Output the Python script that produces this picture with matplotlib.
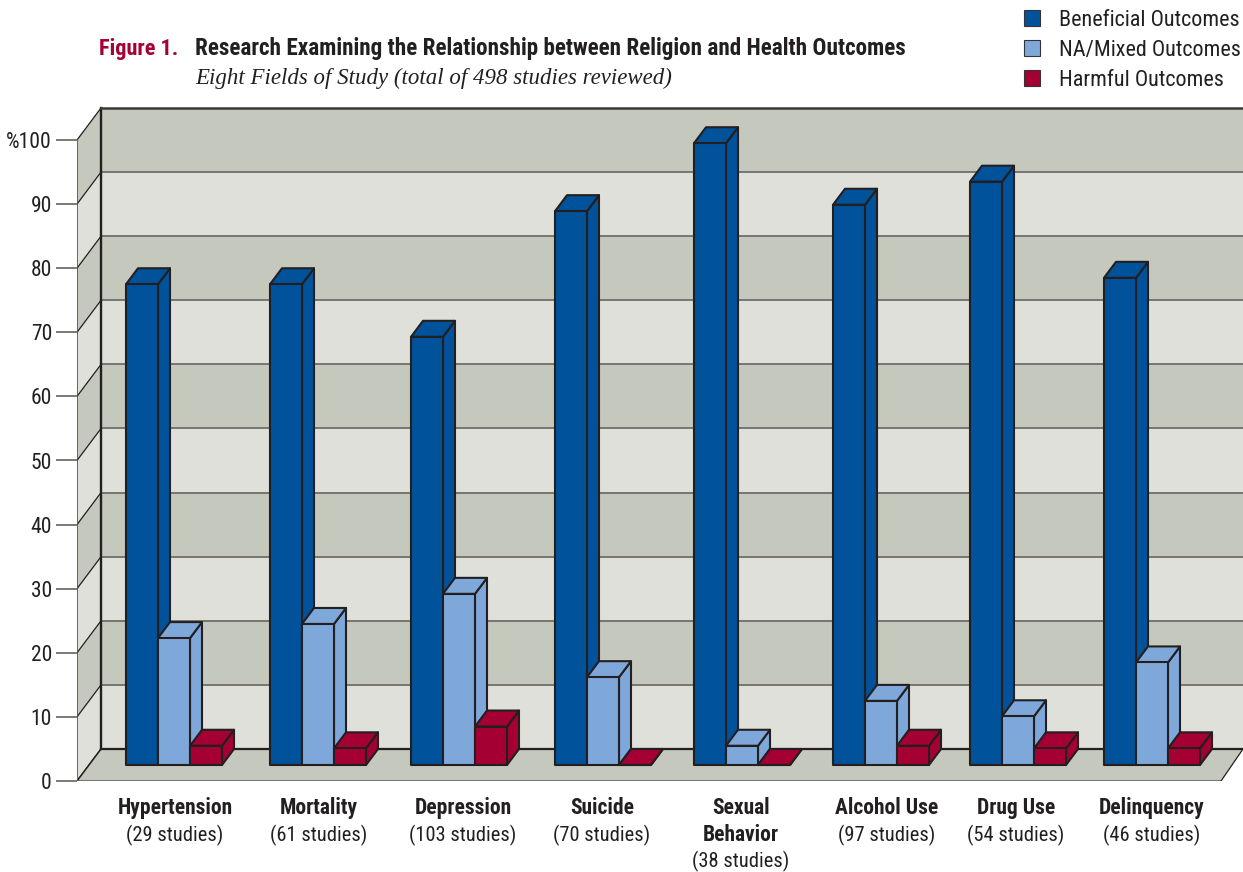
import matplotlib
matplotlib.use("Agg")
import matplotlib.pyplot as plt
from matplotlib.patches import Patch, Polygon

plt.rcParams["font.family"] = ["Roboto Condensed", "Liberation Sans", "DejaVu Sans"]

fields = ["Hypertension", "Mortality", "Depression", "Suicide", "Sexual\nBehavior",
          "Alcohol Use", "Drug Use", "Delinquency"]
studies = [29, 61, 103, 70, 38, 97, 54, 46]
beneficial = [75, 75, 66.8, 86.4, 97, 87.4, 91, 76]
mixed = [19.8, 22, 26.7, 13.7, 3, 10, 7.6, 16]
harmful = [3, 2.6, 6, 0, 0, 3, 2.6, 2.6]
series_names = ["Beneficial Outcomes", "NA/Mixed Outcomes", "Harmful Outcomes"]
yticks = [0, 10, 20, 30, 40, 50, 60, 70, 80, 90, 100]
ytick_labels = ["0", "10", "20", "30", "40", "50", "60", "70", "80", "90", "%100"]

# layout, in pixels of the reference
W, H = 1243, 872
Y0 = 781  # pixel row of 0 on the front of the left wall
PX_PER_PCT = 6.41
group_left = [126, 270, 411, 555, 694, 833, 970, 1104]
label_x = [175, 319, 463, 602, 741, 887, 1016, 1152]
BAR_W = 32
WALL_X, WALL_Y = 24, 32 / PX_PER_PCT
BAR_DX, BAR_DY = 12, 16 / PX_PER_PCT
FLOOR_RIGHT = 1221

BLUE, LIGHT, RED = "#00529b", "#7fa8da", "#a50034"
BAND_DARK, BAND_LIGHT = "#c5c8bd", "#dfe0da"
EDGE = "#231f20"
GRID = "#6f6f68"
TEXT = "#231f20"


def pix_to_y(py):
    return (Y0 - py) / PX_PER_PCT


fig = plt.figure(figsize=(W / 100, H / 100), dpi=100)
ax = fig.add_axes([77 / W, (H - Y0) / H, (W - 77) / W, Y0 / H])
ax.set_xlim(77, W)
ax.set_ylim(0, Y0 / PX_PER_PCT)
for s in ax.spines.values():
    s.set_visible(False)
ax.set_xticks([])
ax.set_yticks(yticks)
ax.set_yticklabels(ytick_labels)
ax.tick_params(axis="y", length=15, width=1.1, color="#55554f", pad=3,
               labelsize=15.5, labelcolor=TEXT)

x0 = 77
x1 = x0 + WALL_X

# back wall and left wall bands
for i in range(10):
    lo, hi = yticks[i], yticks[i + 1]
    col = BAND_DARK if i % 2 == 1 else BAND_LIGHT
    ax.fill_between([x1, W], lo + WALL_Y, hi + WALL_Y, color=col, lw=0, zorder=1)
    ax.add_patch(Polygon([(x0, lo), (x1, lo + WALL_Y), (x1, hi + WALL_Y), (x0, hi)],
                         closed=True, fc=col, ec="none", zorder=1))
for v in yticks[1:-1]:
    ax.plot([x1, W], [v + WALL_Y, v + WALL_Y], color=GRID, lw=1.3, zorder=2)
for v in yticks:
    ax.plot([x0, x1], [v, v + WALL_Y], color=EDGE, lw=0.9, zorder=2)

# floor
ax.add_patch(Polygon([(x0, 0), (x1, WALL_Y), (W, WALL_Y), (FLOOR_RIGHT, 0)],
                     closed=True, fc=BAND_DARK, ec="none", zorder=3))
ax.plot([x0, FLOOR_RIGHT], [0, 0], color="#77776f", lw=2.2, zorder=3, solid_capstyle="butt")
ax.plot([FLOOR_RIGHT, W], [0, WALL_Y], color=EDGE, lw=0.9, zorder=4)
ax.plot([x0, x1], [0, WALL_Y], color=EDGE, lw=1.1, zorder=4)
ax.plot([x1, W], [WALL_Y, WALL_Y], color=EDGE, lw=1.6, zorder=4)
ax.plot([x1, x1], [WALL_Y, 100 + WALL_Y], color=EDGE, lw=1.7, zorder=4)
ax.plot([x0, x0], [0, 100], color="#55554f", lw=1.2, zorder=4)
ax.plot([x1, W], [100 + WALL_Y, 100 + WALL_Y], color="#3a3a36", lw=1.8, zorder=4)


def bar3d(left, value, color):
    base = BAR_DY
    top = base + value
    right = left + BAR_W
    faces = [
        [(right, base), (right + BAR_DX, base + BAR_DY), (right + BAR_DX, top + BAR_DY), (right, top)],
        [(left, top), (right, top), (right + BAR_DX, top + BAR_DY), (left + BAR_DX, top + BAR_DY)],
        [(left, base), (right, base), (right, top), (left, top)],
    ]
    for f in faces:
        ax.add_patch(Polygon(f, closed=True, fc=color, ec=EDGE, lw=1.5,
                             joinstyle="round", zorder=5))


for i in range(len(fields)):
    for j, (vals, col) in enumerate([(beneficial, BLUE), (mixed, LIGHT), (harmful, RED)]):
        bar3d(group_left[i] + j * BAR_W, vals[i], col)

# category labels
for i, name in enumerate(fields):
    lines = name.split("\n")
    for k, line in enumerate(lines):
        ax.text(label_x[i], pix_to_y(808 + 27 * k), line, ha="center", va="center",
                fontsize=15.5, fontweight="bold", color=TEXT)
    ax.text(label_x[i], pix_to_y(835 + 26 * (len(lines) - 1)), f"({studies[i]} studies)",
            ha="center", va="center", fontsize=14.8, color=TEXT)

# title
fig.text(99 / W, 1 - 49 / H, "Figure 1.", color=RED, fontsize=16, fontweight="bold", va="center")
fig.text(195 / W, 1 - 49 / H, "Research Examining the Relationship between Religion and Health Outcomes",
         color=TEXT, fontsize=16.7, fontweight="bold", va="center")
fig.text(195 / W, 1 - 78 / H, "Eight Fields of Study (total of 498 studies reviewed)", color=TEXT,
         fontsize=16.5, fontstyle="italic", family=["Liberation Serif"], va="center")

# legend
handles = [Patch(fc=c, ec="#33333a", lw=0.8) for c in (BLUE, LIGHT, RED)]
fig.legend(handles, series_names, loc="upper left", bbox_to_anchor=(1024 / W, 1 - 10 / H),
           frameon=False, fontsize=15.9, labelcolor=TEXT, handlelength=0.726, handleheight=0.726,
           handletextpad=0.868, labelspacing=0.4, borderpad=0, borderaxespad=0)

fig.savefig("out.png", dpi=100)
